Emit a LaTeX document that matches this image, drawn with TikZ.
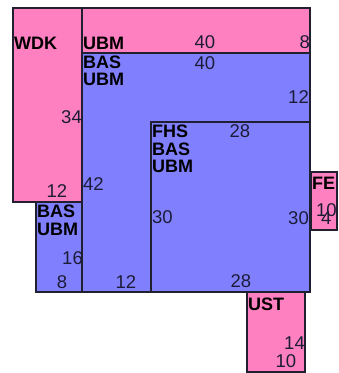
\documentclass[tikz,border=0pt]{standalone}
\usepackage{fontspec}
\setmainfont{Liberation Sans}
\definecolor{pinkf}{HTML}{FF80C0}
\definecolor{bluef}{HTML}{8080FF}
\definecolor{edge}{HTML}{202030}
\definecolor{numc}{HTML}{1C1C38}
\tikzset{
  pbox/.style={fill=pinkf, draw=edge, line width=1.1pt},
  bbox/.style={fill=bluef, draw=edge, line width=1.1pt},
  lbl/.style={inner sep=0pt, font=\fontsize{18}{18}\selectfont\bfseries, text=black},
  num/.style={inner sep=0pt, font=\fontsize{18.5}{18.5}\selectfont, text=numc},
}
\begin{document}
\begin{tikzpicture}[x=1pt,y=-1pt]
\useasboundingbox (0,0) rectangle (339,373);
% rectangles
\draw[pbox] (13,8) rectangle (82,202);
\draw[pbox] (82,8) rectangle (310,53);
\draw[bbox] (82,53) rectangle (310,292);
\draw[bbox] (151,122) rectangle (310,292);
\draw[bbox] (36,202) rectangle (82,292);
\draw[pbox] (311,172) rectangle (337,230);
\draw[pbox] (247,292) rectangle (305,372);
% WDK
\node[lbl, anchor=west] (wdk) at (14,43) {WDK};
\node[num, anchor=east] (n34) at (82,117) {34};
\node[num] (n12a) at (57,191) {12};
% UBM top
\node[lbl, anchor=west] (ubm1) at (83,43) {UBM};
\node[num] (n40a) at (205,42) {40};
\node[num, anchor=east] (n8a) at (310,42) {8};
% BAS UBM big
\node[lbl, anchor=west] (bas1) at (83,62) {BAS};
\node[lbl, anchor=west] (ubm2) at (83,79) {UBM};
\node[num] (n40b) at (205,63) {40};
\node[num, anchor=east] (n12b) at (309,97) {12};
\node[num, anchor=west] (n42) at (83,184) {42};
\node[num] (n12c) at (126,282) {12};
% FHS
\node[lbl, anchor=west] (fhs) at (152,131.5) {FHS};
\node[lbl, anchor=west] (bas2) at (152,149) {BAS};
\node[lbl, anchor=west] (ubm3) at (152,166) {UBM};
\node[num] (n28a) at (240,131) {28};
\node[num, anchor=west] (n30a) at (152,217) {30};
\node[num, anchor=east] (n30b) at (309,218) {30};
\node[num] (n28b) at (241,281) {28};
% left blue
\node[lbl, anchor=west] (bas3) at (37,211) {BAS};
\node[lbl, anchor=west] (ubm4) at (37,229) {UBM};
\node[num, anchor=east] (n16) at (83,258) {16};
\node[num] (n8b) at (62,282) {8};
% FE
\begin{scope}
\clip (311,172) rectangle (337,230);
\node[lbl, anchor=west] (fe) at (312,183) {FE};
\node[num, anchor=west] (n10a) at (316,210) {10};
\node[num, anchor=west] (n4) at (321,218) {4};
\end{scope}
% UST
\node[lbl, anchor=west] (ust) at (248,304) {UST};
\node[num, anchor=east] (n14) at (305,343) {14};
\node[num] (n10b) at (286,361) {10};
\end{tikzpicture}
\end{document}
